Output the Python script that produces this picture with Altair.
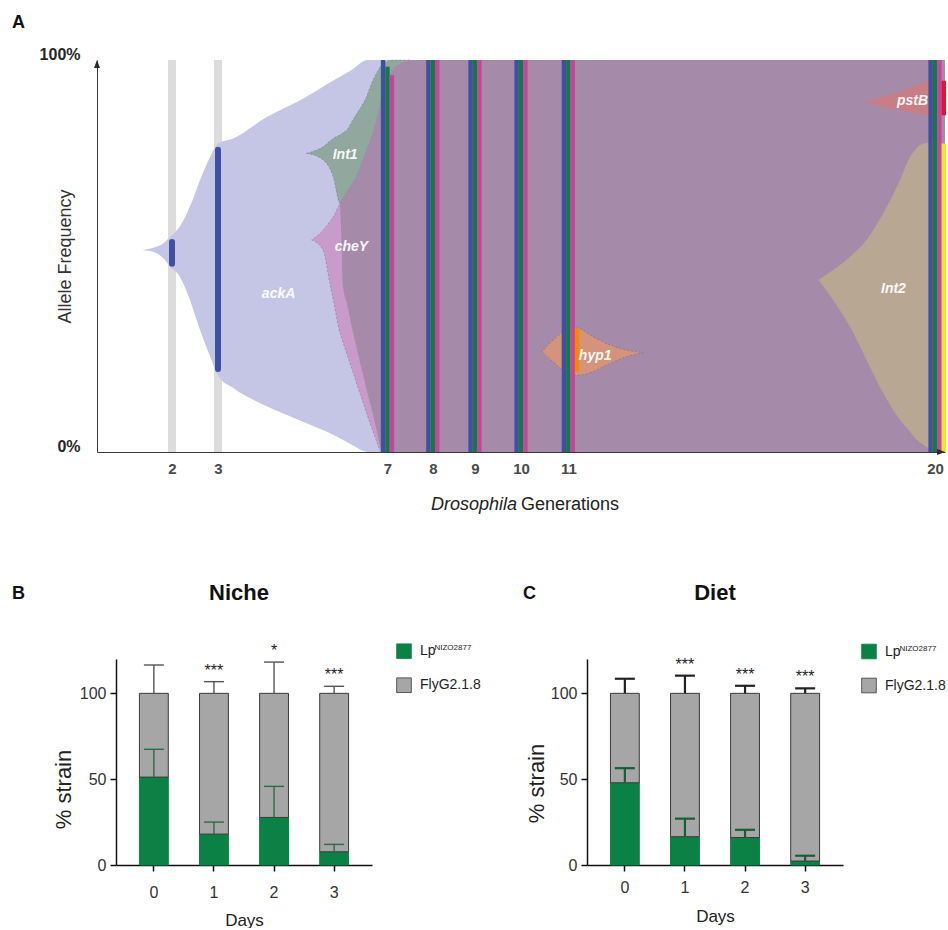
import altair as alt
import pandas as pd

FONT = "Liberation Sans"

# ---------------- Panel A : Muller plot of allele frequencies ----------------
gen_ticks = [2, 3, 7, 8, 9, 10, 11, 20]
gen_domain = [0.37, 2, 3, 7, 8, 9, 10, 11, 20, 20.24]

ackA_gen = [1.35, 1.67, 1.81, 1.96, 2.17, 2.39, 2.61, 2.83, 3.0, 3.36, 4.16, 4.95, 5.74, 6.14, 6.54, 7.2]
ackA_lo = [51.5, 50.7, 49.4, 47.3, 44.7, 38.8, 31.1, 24.3, 19.5, 16.3, 11.6, 8.0, 4.3, 2.0, 0.0, 0.0]
ackA_hi = [51.5, 52.4, 53.2, 54.9, 57.5, 62.6, 69.4, 75.3, 78.7, 80.0, 85.5, 89.8, 94.9, 97.4, 100.0, 100.0]

int1_gen = [5.09, 5.48, 5.72, 5.88, 5.92, 5.94, 6.04, 6.19, 6.27, 6.43, 6.47, 6.66, 6.76, 6.86, 6.90, 7.06, 7.28, 7.50]
int1_lo = [76.2, 74.5, 70.2, 63.4, 64.1, 64.5, 66.2, 68.8, 70.2, 74.7, 75.8, 81.3, 85.0, 89.5, 91.5, 96.6, 99.2, 100.0]
int1_hi = [76.2, 77.9, 80.0, 80.9, 81.2, 81.4, 82.1, 84.8, 86.2, 89.0, 89.8, 94.9, 97.0, 98.7, 99.0, 100.0, 100.0, 100.0]

cheY_gen = [5.21, 5.48, 5.64, 5.72, 5.88, 5.92, 5.94, 6.04, 6.19, 6.27, 6.43, 6.47, 6.59, 6.66, 6.76, 6.82, 6.86, 6.90]
cheY_lo = [54.1, 51.5, 43.0, 38.8, 30.3, 29.0, 28.3, 25.0, 20.2, 17.5, 12.4, 11.1, 7.3, 5.2, 2.2, 0.5, 0.0, 0.0]
cheY_hi = [54.1, 56.6, 58.8, 60.0, 63.4, 64.1, 64.5, 66.2, 68.8, 70.2, 74.7, 75.8, 79.3, 81.3, 85.0, 87.7, 89.5, 91.5]

mauve_gen = [5.88, 5.92, 5.94, 6.04, 6.19, 6.27, 6.43, 6.47, 6.66, 6.76, 6.86, 6.90, 7.06, 7.28, 7.50, 20.24]
mauve_lo = [63.4, 51.5, 43.0, 38.0, 30.3, 26.6, 19.3, 17.5, 9.5, 4.8, 0.4, 0.0, 0.0, 0.0, 0.0, 0.0]
mauve_hi = [63.4, 64.1, 64.5, 66.2, 68.8, 70.2, 74.7, 75.8, 81.3, 85.0, 89.5, 91.5, 96.6, 99.2, 100.0, 100.0]

hyp1_gen = [10.44, 10.68, 10.93, 11.21, 11.61, 12.02, 12.43, 12.84]
hyp1_lo = [25.6, 23.0, 20.5, 19.6, 20.5, 22.6, 24.3, 25.3]
hyp1_hi = [25.6, 28.6, 30.9, 31.6, 29.4, 27.3, 26.0, 25.3]

int2_gen = [17.14, 17.50, 17.91, 18.32, 18.73, 19.14, 19.39, 19.55, 19.63, 19.84, 20.0]
int2_lo = [43.9, 38.8, 32.0, 23.5, 15.0, 8.2, 5.1, 3.1, 2.5, 0.9, 0.0]
int2_hi = [43.9, 46.4, 49.8, 54.1, 60.9, 69.4, 75.3, 77.5, 78.3, 78.9, 79.0]

pstB_gen = [18.24, 18.73, 19.14, 19.55, 19.84, 20.0]
pstB_lo = [89.4, 88.1, 87.2, 86.4, 86.0, 85.8]
pstB_hi = [89.4, 90.6, 91.9, 93.6, 94.9, 95.2]

# sampled generations (vertical bars)
grey_gen = [2, 3]
grey_lo = [0, 0]
grey_hi = [100, 100]
obs_gen = [2, 3]
obs_lo = [48.0, 21.2]
obs_hi = [53.6, 77.1]
seq_gen = [7, 8, 9, 10, 11, 20]
seq_lo = [0, 0, 0, 0, 0, 0]
blue_hi = [100, 100, 100, 100, 100, 100]
green_hi = [98.3, 100, 100, 100, 100, 100]
pink_hi = [96.2, 100, 100, 100, 100, 100]
orange_gen, orange_lo, orange_hi = [11], [20.5], [31.6]
yellow_gen, yellow_lo, yellow_hi = [20], [0.0], [78.7]
red_gen, red_lo, red_hi = [20], [85.9], [94.7]

lab_name = ["ackA", "Int1", "cheY", "hyp1", "Int2", "pstB"]
lab_gen = [4.43, 6.00, 6.15, 11.66, 18.98, 19.45]
lab_pct = [40.3, 75.8, 52.3, 24.5, 41.6, 89.5]


def band_df(g, lo, hi):
    return pd.DataFrame({"gen": g, "lo": lo, "hi": hi})


x_scale = alt.Scale(domain=gen_domain,
                    range=[0, 75, 121, 290.5, 335.8, 378, 424, 471.3, 838, 848],
                    nice=False, zero=False)
y_scale_A = alt.Scale(domain=[0, 100], nice=False, zero=False)

x_axis_A = alt.Axis(values=gen_ticks, title=None, grid=False, ticks=False, tickSize=0,
                    labelFlush=False, labelOverlap=False, labelFontSize=15, labelFontWeight="bold",
                    labelColor="#4a4a4a", labelPadding=21, labelBaseline="alphabetic",
                    domainColor="#3a3a3a", domainWidth=1)
y_axis_A = alt.Axis(values=[0, 100], labelExpr="datum.value + '%'", title="Allele Frequency",
                    grid=False, ticks=False, tickSize=0, labelFontSize=16, labelFontWeight="bold",
                    labelColor="#262626", labelPadding=17, labelOffset=-6,
                    domainColor="#3a3a3a", domainWidth=1,
                    titleFontSize=18, titleFontWeight="normal", titleColor="#333333",
                    titleX=-32, titleY=196, titleAngle=270, titleAlign="center",
                    titleBaseline="middle")


def xg():
    return alt.X("gen:Q", scale=x_scale, axis=x_axis_A)


def yp(f):
    return alt.Y(f"{f}:Q", scale=y_scale_A, axis=y_axis_A)


def band(df, color, dashed=False):
    kw = dict(color=color, interpolate="monotone", opacity=1)
    if dashed:
        kw.update(stroke="#5c5566", strokeWidth=0.8, strokeDash=[2, 2], strokeOpacity=0.45)
    return alt.Chart(df).mark_area(**kw).encode(x=xg(), y=yp("lo"), y2=alt.Y2("hi:Q"))


def vrule(df, color, width, offset=0.0, cap="butt"):
    return alt.Chart(df).mark_rule(color=color, strokeWidth=width, xOffset=offset,
                                   strokeCap=cap).encode(x=xg(), y=yp("lo"), y2=alt.Y2("hi:Q"))


BLUE, GREEN_L, PINK = "#3f4fa2", "#137a47", "#c8449b"
W = 4.4

layers_A = [
    vrule(band_df(grey_gen, grey_lo, grey_hi), "#dcdcdc", 8),
    band(band_df(ackA_gen, ackA_lo, ackA_hi), "#c5c6e6"),
    band(band_df(int1_gen, int1_lo, int1_hi), "#90a89d", dashed=True),
    band(band_df(cheY_gen, cheY_lo, cheY_hi), "#c99bcb", dashed=True),
    band(band_df(mauve_gen, mauve_lo, mauve_hi), "#a58aaa"),
    band(band_df(hyp1_gen, hyp1_lo, hyp1_hi), "#d4937a", dashed=True),
    band(band_df(int2_gen, int2_lo, int2_hi), "#b8a792"),
    band(band_df(pstB_gen, pstB_lo, pstB_hi), "#c97d86"),
    vrule(band_df(obs_gen, obs_lo, obs_hi), BLUE, 6, 0, "round"),
    vrule(band_df(seq_gen, seq_lo, blue_hi), BLUE, W, -W),
    vrule(band_df(seq_gen, seq_lo, green_hi), GREEN_L, W, 0),
    vrule(band_df(seq_gen, seq_lo, pink_hi), PINK, W, W),
    vrule(band_df(orange_gen, orange_lo, orange_hi), "#f28a00", W, 2 * W),
    vrule(band_df(yellow_gen, yellow_lo, yellow_hi), "#f4e61c", W, 2 * W),
    vrule(band_df(red_gen, red_lo, red_hi), "#e5132e", W, 2 * W),
    alt.Chart(pd.DataFrame({"gen": lab_gen, "pct": lab_pct, "name": lab_name})).mark_text(
        font=FONT, fontSize=14, fontStyle="italic", fontWeight="bold", color="white",
        opacity=0.93, align="center", baseline="middle").encode(x=xg(), y=yp("pct"), text="name:N"),
    # axis arrow heads at the ends of the axes
    alt.Chart(pd.DataFrame({"gen": [gen_domain[0]], "pct": [100]})).mark_point(
        shape="M-0.75,1L0,-1L0.75,1Z", size=64, filled=True, color="#2a2a2a", strokeWidth=0,
        opacity=1, yOffset=4).encode(x=xg(), y=yp("pct")),
    alt.Chart(pd.DataFrame({"gen": [gen_domain[-1]], "pct": [0]})).mark_point(
        shape="M-1,-0.75L1,0L-1,0.75Z", size=64, filled=True, color="#2a2a2a", strokeWidth=0,
        opacity=1, xOffset=-4).encode(x=xg(), y=yp("pct")),
    alt.Chart(pd.DataFrame({"t": ["Drosophila"]})).mark_text(
        font=FONT, fontSize=18, fontStyle="italic", align="right", baseline="alphabetic",
        color="#222222").encode(text="t:N", x=alt.value(420), y=alt.value(450)),
    alt.Chart(pd.DataFrame({"t": ["Generations"]})).mark_text(
        font=FONT, fontSize=18, align="left", baseline="alphabetic",
        color="#222222").encode(text="t:N", x=alt.value(424), y=alt.value(450)),
    alt.Chart(pd.DataFrame({"t": ["A"]})).mark_text(
        font=FONT, fontSize=18, fontWeight="bold", align="left", baseline="alphabetic",
        color="#111111").encode(text="t:N", x=alt.value(-85), y=alt.value(-32)),
]
panel_A = alt.layer(*layers_A).properties(width=848, height=392)

# ---------------- Panels B & C : competition assays ----------------
days = [0, 1, 2, 3]
LP = "Lp"
LP_SUP = "NIZO2877"
FLY = "FlyG2.1.8"

niche_lp = [51.2, 18.0, 27.7, 7.7]
niche_lp_top = [67.4, 25.0, 45.8, 12.0]
niche_fly_top = [116.5, 106.8, 118.2, 104.1]
niche_stars = ["", "***", "*", "***"]

diet_lp = [47.9, 16.5, 16.0, 2.3]
diet_lp_top = [56.4, 27.0, 20.5, 5.4]
diet_fly_top = [108.5, 110.3, 104.4, 102.9]
diet_stars = ["", "***", "***", "***"]

GREEN = "#0b8146"
GREY = "#a6a6a6"
SYM = 215  # legend square area


def strain_panel(letter, title, lp, lp_top, fly_top, stars, p):
    bars = pd.DataFrame({"day": days + days, "strain": [LP] * 4 + [FLY] * 4,
                         "start": [0] * 4 + lp, "end": lp + [100] * 4})
    err_lp = pd.DataFrame({"day": days, "base": lp, "top": lp_top})
    err_fly = pd.DataFrame({"day": days, "base": [100] * 4, "top": fly_top})
    st = pd.DataFrame({"day": days, "top": fly_top, "stars": stars})

    x_ax = alt.Axis(title="Days", labelAngle=0, tickSize=6, tickWidth=1.5, tickColor="#111111",
                    domainColor="#111111", domainWidth=1.5, labelFontSize=16, labelColor="#333333",
                    labelPadding=p["xlp"], labelBaseline="alphabetic", titleFontSize=17,
                    titleFontWeight="normal", titleColor="#222222", titleY=p["xty"],
                    titleBaseline="alphabetic")
    y_ax = alt.Axis(values=[0, 50, 100], title="% strain", grid=False, tickSize=6, tickWidth=1.5,
                    tickColor="#111111", domainColor="#111111", domainWidth=1.5,
                    labelFontSize=16, labelColor="#333333", labelPadding=4,
                    titleFontSize=22, titleFontWeight="normal", titleColor="#222222",
                    titleX=p["ytx"], titleY=p["yty"], titleAngle=270, titleAlign="center",
                    titleBaseline="middle")
    x_sc = alt.Scale(paddingInner=0.52, paddingOuter=0.39)
    y_sc = alt.Scale(domain=[0, 120], nice=False)

    def X():
        return alt.X("day:O", scale=x_sc, axis=x_ax)

    def Y(f):
        return alt.Y(f"{f}:Q", scale=y_sc, axis=y_ax)

    leg = alt.Legend(title=None, orient="none", legendX=p["lx"], legendY=p["ly"],
                     symbolType="square", symbolSize=SYM, symbolStrokeColor="#555555",
                     symbolStrokeWidth=0.8, labelFontSize=14, labelColor="#222222",
                     labelOffset=8, rowPadding=16, padding=0, labelLimit=200)

    bar = alt.Chart(bars).mark_bar(strokeWidth=1).encode(
        x=X(), y=Y("start"), y2=alt.Y2("end:Q"),
        color=alt.Color("strain:N", scale=alt.Scale(domain=[LP, FLY], range=[GREEN, GREY]),
                        legend=leg),
        stroke=alt.Stroke("strain:N", scale=alt.Scale(domain=[LP, FLY],
                                                      range=[GREEN, "#3a3a3a"]), legend=None),
    )
    w = p["ew"]
    e1 = alt.Chart(err_fly).mark_rule(color=p["ec_fly"], strokeWidth=w).encode(
        x=X(), y=Y("base"), y2=alt.Y2("top:Q"))
    c1 = alt.Chart(err_fly).mark_tick(color=p["ec_fly"], thickness=w, size=20,
                                      orient="horizontal", opacity=1).encode(x=X(), y=Y("top"))
    e2 = alt.Chart(err_lp).mark_rule(color=p["ec_lp"], strokeWidth=w).encode(
        x=X(), y=Y("base"), y2=alt.Y2("top:Q"))
    c2 = alt.Chart(err_lp).mark_tick(color=p["ec_lp"], thickness=w, size=20,
                                     orient="horizontal", opacity=1).encode(x=X(), y=Y("top"))
    sig = alt.Chart(st).mark_text(font=FONT, fontSize=16, dy=-6, baseline="alphabetic",
                                  color="#222222").encode(x=X(), y=Y("top"), text="stars:N")
    let = alt.Chart(pd.DataFrame({"t": [letter]})).mark_text(
        font=FONT, fontSize=18, fontWeight="bold", align="left", baseline="alphabetic",
        color="#111111").encode(text="t:N", x=alt.value(p["letx"]), y=alt.value(-60.5))
    ttl = alt.Chart(pd.DataFrame({"t": [title]})).mark_text(
        font=FONT, fontSize=22, fontWeight="bold", align="center", baseline="alphabetic",
        color="#111111").encode(text="t:N", x=alt.value(p["tx"]), y=alt.value(-59))
    # superscript strain code after the "Lp" legend label
    sup = alt.Chart(pd.DataFrame({"t": [LP_SUP]})).mark_text(
        font=FONT, fontSize=8, align="left", baseline="alphabetic", color="#222222").encode(
        text="t:N", x=alt.value(p["lx"] + SYM ** 0.5 + 8 + 15.8), y=alt.value(p["ly"] + 7))
    return alt.layer(bar, e1, c1, e2, c2, sig, let, ttl, sup).properties(width=256, height=206)


panel_B = strain_panel("B", "Niche", niche_lp, niche_lp_top, niche_fly_top, niche_stars,
                       dict(xty=60, xlp=26, ytx=-53, yty=130, lx=280, ly=-15.8, ew=1.4,
                            ec_fly="#555555", ec_lp="#2b6b45", letx=-104, tx=123))
panel_C = strain_panel("C", "Diet", diet_lp, diet_lp_top, diet_fly_top, diet_stars,
                       dict(xty=56, xlp=21, ytx=-50.5, yty=124, lx=274, ly=-15.5, ew=2.2,
                            ec_fly="#222222", ec_lp="#175e37", letx=-64, tx=128))

bc = alt.hconcat(panel_B, panel_C, spacing=215, bounds="flush").resolve_scale(
    color="independent", stroke="independent").resolve_legend(color="independent")

# empty spacer that sets panel B's y axis 19 px right of panel A's
spacer = alt.Chart(pd.DataFrame({"s": [0]})).mark_point(opacity=0).properties(width=19, height=10)
bottom = alt.hconcat(spacer, bc, spacing=0, bounds="flush")

chart = alt.vconcat(panel_A, bottom, spacing=68, bounds="full").properties(
    padding={"left": 12, "top": 14, "right": 0, "bottom": 0}
).configure(font=FONT).configure_view(stroke=None).configure_axis(grid=False)

chart.save("out.html", embed_options={"renderer": "svg", "actions": False})
